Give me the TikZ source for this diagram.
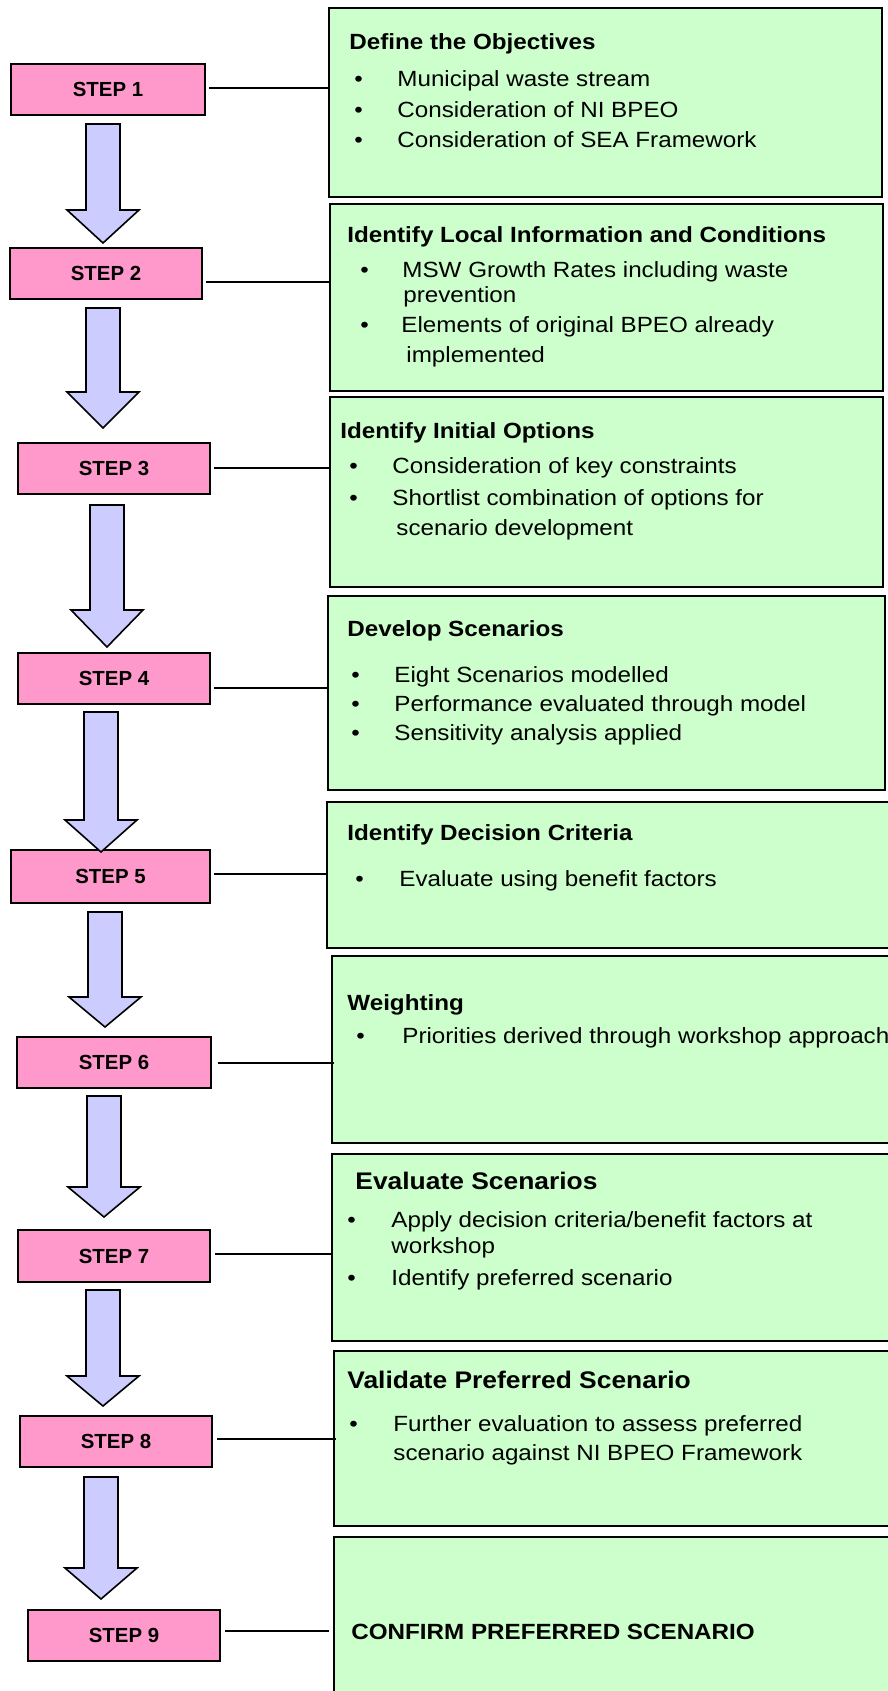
\documentclass[tikz,border=0pt]{standalone}
\usepackage{fontspec}
\setmainfont{Liberation Sans}[FakeStretch=1.1]
\newfontfamily\stepfont{Liberation Sans}
\definecolor{stepPink}{HTML}{FF99CC}
\definecolor{boxGreen}{HTML}{CCFFCC}
\definecolor{arrowLav}{HTML}{CCCCFF}
\newcommand{\bdarrow}[4]{%
  \draw[blockarrow] ({#1-17},#2) -- ({#1+17},#2) -- ({#1+17},#3) -- ({#1+36},#3)
    -- (#1,#4) -- ({#1-36},#3) -- ({#1-17},#3) -- cycle;}
\begin{document}
\begin{tikzpicture}[x=0.5pt,y=-0.5pt,
  stepbox/.style={draw, line width=1pt, fill=stepPink, inner sep=0pt,
    font=\stepfont\bfseries\fontsize{10.2}{12}\selectfont},
  greenbox/.style={draw, line width=1pt, fill=boxGreen, inner sep=0pt},
  conn/.style={line width=1pt},
  blockarrow/.style={draw=black, line width=0.8pt, fill=arrowLav, line join=miter},
  txt/.style={anchor=base west, inner sep=0pt, font=\fontsize{11}{13}\selectfont},
  ttl/.style={anchor=base west, inner sep=0pt, font=\bfseries\fontsize{11}{13}\selectfont},
  bigttl/.style={anchor=base west, inner sep=0pt, font=\bfseries\fontsize{12}{14}\selectfont},
  bul/.style={anchor=base west, inner sep=0pt, font=\fontsize{11}{13}\selectfont}]
\fill[white] (0,0) rectangle (888,1691);
\useasboundingbox (0,0) rectangle (888,1691);

% green boxes
\node[greenbox, minimum width=276.5pt, minimum height=94.5pt] (g1) at (605.5,102.5) {};
\node[greenbox, minimum width=276.5pt, minimum height=93.5pt] (g2) at (606.5,297.5) {};
\node[greenbox, minimum width=276.5pt, minimum height=95pt] (g3) at (606.5,492) {};
\node[greenbox, minimum width=278.5pt, minimum height=97pt] (g4) at (606.5,693) {};
\node[greenbox, minimum width=284pt, minimum height=73pt] (g5) at (611,875) {};
\node[greenbox, minimum width=281.5pt, minimum height=93.5pt] (g6) at (613.5,1049.5) {};
\node[greenbox, minimum width=281.5pt, minimum height=93.5pt] (g7) at (613.5,1247.5) {};
\node[greenbox, minimum width=280.5pt, minimum height=87.5pt] (g8) at (614.5,1438.5) {};
\node[greenbox, minimum width=280.5pt, minimum height=81.5pt] (g9) at (614.5,1618.5) {};

% step boxes
\node[stepbox, minimum width=97pt, minimum height=25.5pt] (s1) at (108,89.5) {STEP 1\hspace{4pt}};
\node[stepbox, minimum width=96pt, minimum height=25.5pt] (s2) at (106,273.5) {STEP 2\hspace{4pt}};
\node[stepbox, minimum width=96pt, minimum height=25.5pt] (s3) at (114,468.5) {STEP 3\hspace{4pt}};
\node[stepbox, minimum width=96pt, minimum height=25.5pt] (s4) at (114,678.5) {STEP 4\hspace{4pt}};
\node[stepbox, minimum width=99.5pt, minimum height=26.5pt] (s5) at (110.5,876.5) {STEP 5\hspace{4pt}};
\node[stepbox, minimum width=97pt, minimum height=25.5pt] (s6) at (114,1062.5) {STEP 6\hspace{4pt}};
\node[stepbox, minimum width=96pt, minimum height=26pt] (s7) at (114,1256) {STEP 7\hspace{4pt}};
\node[stepbox, minimum width=96pt, minimum height=25.5pt] (s8) at (116,1441.5) {STEP 8\hspace{4pt}};
\node[stepbox, minimum width=96pt, minimum height=25.5pt] (s9) at (124,1635.5) {STEP 9\hspace{4pt}};

% connectors
\draw[conn] ([xshift=1.5pt,yshift=0.75pt]s1.east) -- ([yshift=0.75pt]s1.east -| g1.west);
\draw[conn] ([xshift=1.5pt,yshift=-4.25pt]s2.east) -- ([yshift=-4.25pt]s2.east -| g2.west);
\draw[conn] ([xshift=1.5pt,yshift=0.25pt]s3.east) -- ([yshift=0.25pt]s3.east -| g3.west);
\draw[conn] ([xshift=1.5pt,yshift=-4.75pt]s4.east) -- ([yshift=-4.75pt]s4.east -| g4.west);
\draw[conn] ([xshift=1.5pt,yshift=1.25pt]s5.east) -- ([yshift=1.25pt]s5.east -| g5.west);
\draw[conn] ([xshift=3pt,yshift=-0.25pt]s6.east) -- ([xshift=1.5pt,yshift=-0.25pt]s6.east -| g6.west);
\draw[conn] ([xshift=2pt,yshift=1pt]s7.east) -- ([yshift=1pt]s7.east -| g7.west);
\draw[conn] ([xshift=2pt,yshift=1.25pt]s8.east) -- ([xshift=1.5pt,yshift=1.25pt]s8.east -| g8.west);
\draw[conn] ([xshift=2pt,yshift=2.25pt]s9.east) -- ([xshift=-2pt,yshift=2.25pt]s9.east -| g9.west);

% block arrows
\bdarrow{103}{124}{210}{243}
\bdarrow{103}{308}{392}{428}
\bdarrow{107}{505}{610}{647}
\bdarrow{101}{712}{820}{852}
\bdarrow{105}{912}{997}{1027}
\bdarrow{104}{1096}{1187}{1217}
\bdarrow{103}{1290}{1376}{1406}
\bdarrow{101}{1477}{1568}{1599}

% box 1
\node[ttl] (t1) at (349,50) {Define the Objectives};
\node[bul] (b1a) at (354,87) {\textbullet};
\node[txt] (l1a) at (397,87) {Municipal waste stream};
\node[bul] (b1b) at (354,118) {\textbullet};
\node[txt] (l1b) at (397,118) {Consideration of NI BPEO};
\node[bul] (b1c) at (354,148) {\textbullet};
\node[txt] (l1c) at (397,148) {Consideration of SEA Framework};

% box 2
\node[ttl] (t2) at (347,242) {Identify Local Information and Conditions};
\node[bul] (b2a) at (360,277) {\textbullet};
\node[txt] (l2a) at (402,277) {MSW Growth Rates including waste};
\node[txt] (l2b) at (403,302) {prevention};
\node[bul] (b2c) at (360,332) {\textbullet};
\node[txt] (l2c) at (401,332) {Elements of original BPEO already};
\node[txt] (l2d) at (406,362) {implemented};

% box 3
\node[ttl] (t3) at (340,438) {Identify Initial Options};
\node[bul] (b3a) at (349,473) {\textbullet};
\node[txt] (l3a) at (392,473) {Consideration of key constraints};
\node[bul] (b3b) at (349,505) {\textbullet};
\node[txt] (l3b) at (392,505) {Shortlist combination of options for};
\node[txt] (l3c) at (396,535) {scenario development};

% box 4
\node[ttl] (t4) at (347,636) {Develop Scenarios};
\node[bul] (b4a) at (351,682) {\textbullet};
\node[txt] (l4a) at (394,682) {Eight Scenarios modelled};
\node[bul] (b4b) at (351,711) {\textbullet};
\node[txt] (l4b) at (394,711) {Performance evaluated through model};
\node[bul] (b4c) at (351,740) {\textbullet};
\node[txt] (l4c) at (394,740) {Sensitivity analysis applied};

% box 5
\node[ttl] (t5) at (347,840) {Identify Decision Criteria};
\node[bul] (b5a) at (355,886) {\textbullet};
\node[txt] (l5a) at (399,886) {Evaluate using benefit factors};

% box 6
\node[ttl] (t6) at (347,1010) {Weighting};
\node[bul] (b6a) at (356,1043) {\textbullet};
\node[txt] (l6a) at (402,1043) {Priorities derived through workshop approach};

% box 7
\node[bigttl] (t7) at (355,1189) {Evaluate Scenarios};
\node[bul] (b7a) at (347,1227) {\textbullet};
\node[txt] (l7a) at (391,1227) {Apply decision criteria/benefit factors at};
\node[txt] (l7b) at (391,1253) {workshop};
\node[bul] (b7c) at (347,1285) {\textbullet};
\node[txt] (l7c) at (391,1285) {Identify preferred scenario};

% box 8
\node[bigttl] (t8) at (347,1388) {Validate Preferred Scenario};
\node[bul] (b8a) at (349,1431) {\textbullet};
\node[txt] (l8a) at (393,1431) {Further evaluation to assess preferred};
\node[txt] (l8b) at (393,1460) {scenario against NI BPEO Framework};

% box 9
\node[ttl] (t9) at (351,1639) {CONFIRM PREFERRED SCENARIO};
\end{tikzpicture}
\end{document}
